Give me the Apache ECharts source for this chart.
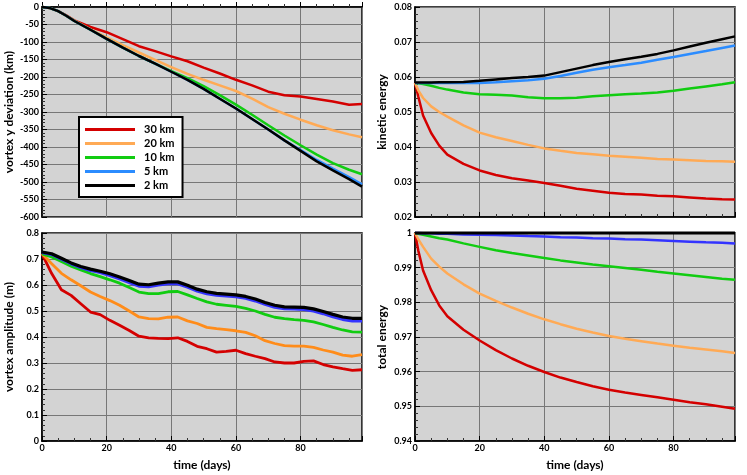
<!DOCTYPE html>
<html><head><meta charset="utf-8">
<script src="https://cdn.jsdelivr.net/npm/echarts@6/dist/echarts.min.js"></script>
<style>html,body{margin:0;padding:0;background:#fff}#c{width:747px;height:475px}</style>
</head><body><div id="c"></div>
<script>
var names = ['30 km','20 km','10 km','5 km','2 km'];

// vortex y deviation (km)
var tDev = [0,2.5,5,7.5,10,15,20,25,30,35,40,45,50,55,60,65,70,75,80,85,90,95,99];
var dev30 = [0,-3,-12,-24,-38,-57,-72,-92,-112,-126,-141,-155,-173,-190,-208,-224,-242,-252,-256,-263,-270,-279,-277];
var dev20 = [0,-3,-12,-25,-39,-64,-87,-109,-130,-151,-172,-191,-208,-224,-240,-262,-286,-305,-322,-338,-352,-364,-372];
var dev10 = [0,-3,-12,-25,-40,-65,-91,-116,-140,-162,-183,-203,-226,-252,-279,-308,-338,-367,-395,-422,-446,-465,-478];
var dev5  = [0,-3,-12,-25,-40,-65,-91,-116,-140,-162,-185,-208,-234,-262,-290,-320,-350,-381,-409,-437,-462,-486,-507];
var dev2  = [0,-3,-12,-25,-40,-65,-91,-116,-140,-162,-185,-208,-234,-262,-290,-320,-350,-381,-411,-441,-467,-492,-513];

// vortex amplitude (m)
var tAmp = [0,3,6,9,12,15,18,21,24,27,30,33,36,39,42,45,48,51,54,57,60,63,66,69,72,75,78,81,84,87,90,93,96,99];
var amp30 = [0.72,0.644,0.582,0.56,0.528,0.496,0.486,0.464,0.445,0.425,0.403,0.397,0.395,0.394,0.397,0.383,0.364,0.355,0.342,0.345,0.349,0.336,0.326,0.317,0.304,0.300,0.300,0.306,0.308,0.294,0.285,0.278,0.272,0.274];
var amp20 = [0.72,0.682,0.645,0.62,0.597,0.573,0.556,0.54,0.522,0.5,0.477,0.471,0.470,0.476,0.477,0.462,0.452,0.437,0.432,0.428,0.424,0.418,0.405,0.386,0.375,0.367,0.365,0.365,0.36,0.35,0.342,0.33,0.326,0.332];
var amp10 = [0.72,0.708,0.69,0.672,0.658,0.644,0.632,0.62,0.607,0.59,0.573,0.567,0.567,0.574,0.575,0.562,0.548,0.535,0.526,0.522,0.518,0.51,0.5,0.487,0.476,0.471,0.467,0.464,0.458,0.448,0.437,0.427,0.42,0.419];
var amp5  = [0.725,0.718,0.7,0.682,0.667,0.656,0.648,0.637,0.624,0.61,0.596,0.594,0.6,0.605,0.605,0.592,0.577,0.567,0.561,0.558,0.555,0.549,0.539,0.526,0.515,0.509,0.508,0.506,0.5,0.49,0.478,0.468,0.462,0.462];
var amp2  = [0.727,0.72,0.703,0.685,0.671,0.661,0.653,0.643,0.631,0.617,0.603,0.601,0.607,0.612,0.612,0.599,0.584,0.574,0.568,0.565,0.562,0.556,0.546,0.533,0.522,0.516,0.515,0.514,0.508,0.498,0.487,0.477,0.472,0.472];

// kinetic energy & total energy
var tEn = [0,1,2.5,5,7.5,10,15,20,25,30,35,40,45,50,55,60,65,70,75,80,85,90,95,99];
var ke30 = [0.0583,0.0545,0.0490,0.0440,0.0404,0.0378,0.0352,0.0333,0.0320,0.0311,0.0304,0.0297,0.0289,0.0281,0.0275,0.0269,0.0266,0.0264,0.0261,0.0259,0.0256,0.0253,0.0251,0.0250];
var ke20 = [0.0583,0.0562,0.0540,0.0516,0.0500,0.0487,0.0462,0.0441,0.0428,0.0417,0.0406,0.0396,0.0389,0.0383,0.0379,0.0375,0.0372,0.0369,0.0366,0.0364,0.0362,0.0360,0.0359,0.0358];
var ke10 = [0.0583,0.0582,0.0580,0.0575,0.0569,0.0564,0.0556,0.0551,0.0549,0.0547,0.0542,0.0539,0.0539,0.0541,0.0545,0.0548,0.0551,0.0553,0.0556,0.0561,0.0567,0.0573,0.0579,0.0585];
var ke5  = [0.0583,0.0583,0.0583,0.0583,0.0583,0.0583,0.0583,0.0583,0.0585,0.0588,0.0591,0.0595,0.0603,0.0612,0.0621,0.0628,0.0634,0.0641,0.0649,0.0657,0.0666,0.0674,0.0683,0.0690];
var ke2  = [0.0584,0.0584,0.0584,0.0584,0.0585,0.0585,0.0586,0.0589,0.0593,0.0597,0.0600,0.0604,0.0614,0.0624,0.0634,0.0643,0.0651,0.0658,0.0666,0.0676,0.0687,0.0698,0.0708,0.0716];
var te30 = [1,0.9950,0.9892,0.9835,0.9791,0.9760,0.9721,0.9690,0.9662,0.9638,0.9617,0.9599,0.9583,0.9570,0.9558,0.9548,0.9540,0.9533,0.9526,0.9519,0.9512,0.9506,0.9499,0.9493];
var te20 = [1,0.9982,0.9960,0.9926,0.9903,0.9883,0.9852,0.9825,0.9804,0.9785,0.9767,0.9751,0.9737,0.9724,0.9713,0.9703,0.9695,0.9688,0.9681,0.9675,0.9669,0.9664,0.9659,0.9654];
var te10 = [1,0.9998,0.9995,0.9990,0.9985,0.9981,0.9970,0.9960,0.9950,0.9942,0.9935,0.9928,0.9921,0.9915,0.9909,0.9904,0.9899,0.9894,0.9888,0.9883,0.9878,0.9873,0.9868,0.9865];
var te5  = [1,1,0.9999,0.9999,0.9998,0.9998,0.9996,0.9995,0.9994,0.9993,0.9991,0.9990,0.9988,0.9987,0.9985,0.9984,0.9982,0.9981,0.9979,0.9977,0.9975,0.9973,0.9972,0.9970];
var te2  = [1,1,1,1,1,1,1,1,1,1,1,1,1,1,1,1,1,1,1,1,1,1,1,1];

var FONT = 'Lato';
function zip(t, v){ return t.map(function(x,i){ return [x, v[i]]; }); }

var grids = [
  {left:42, top:7, width:320, height:210},
  {left:415, top:7, width:320, height:210},
  {left:42, top:233, width:320, height:208},
  {left:415, top:233, width:320, height:208}
];
grids.forEach(function(g){ g.show = true; g.backgroundColor = '#d3d3d3'; g.borderColor = '#000'; g.borderWidth = 1.5; g.containLabel = false; });

function xAxis(i, labels){
  return {
    type:'value', gridIndex:i, min:0, max:99, interval:20,
    name: labels ? 'time (days)' : '', nameLocation:'middle', nameGap:18,
    nameTextStyle:{fontFamily:FONT, fontWeight:'bold', fontSize:12, color:'#000'},
    axisLine:{show:true, lineStyle:{color:'#000', width:1.5}},
    axisTick:{show:true, inside:true, length:5, lineStyle:{color:'#000'}},
    minorTick:{show:true, splitNumber:4, length:3, lineStyle:{color:'#333'}},
    axisLabel:{show:labels, showMaxLabel:false, margin:3, fontFamily:FONT, fontWeight:'bold', fontSize:9, color:'#000'},
    splitLine:{show:true, lineStyle:{color:'#777', width:1}}
  };
}
function yAxis(i, name, min, max, interval, minorSplit){
  return {
    type:'value', gridIndex:i, min:min, max:max, interval:interval,
    name:name, nameLocation:'middle', nameGap:27,
    nameTextStyle:{fontFamily:FONT, fontWeight:'bold', fontSize:12, color:'#000'},
    axisLine:{show:true, lineStyle:{color:'#000', width:1.5}},
    axisTick:{show:true, inside:true, length:5, lineStyle:{color:'#000'}},
    minorTick:{show:true, splitNumber:minorSplit, length:3, lineStyle:{color:'#333'}},
    axisLabel:{margin:3, fontFamily:FONT, fontWeight:'bold', fontSize:9, color:'#000'},
    splitLine:{show:true, lineStyle:{color:'#777', width:1}}
  };
}

var RED='#d40000', ORL='#ffaa55', ORD='#ff8c1a', GRN='#11cc11', BLL='#2b8cff', BLD='#3333ff', BLK='#000000';

function line(name, gi, t, v, color, w){
  return {type:'line', name:name, xAxisIndex:gi, yAxisIndex:gi, data:zip(t,v), symbol:'none', smooth:false, clip:false,
          lineStyle:{color:color, width:w}, itemStyle:{color:color}, emphasis:{disabled:true}};
}

var series = [
  line(names[0],0,tDev,dev30,RED,2.5), line(names[1],0,tDev,dev20,ORL,2.5), line(names[2],0,tDev,dev10,GRN,2.5), line(names[3],0,tDev,dev5,BLL,2.5), line(names[4],0,tDev,dev2,BLK,2.5),
  line(names[0],1,tEn,ke30,RED,2.5), line(names[1],1,tEn,ke20,ORL,2.5), line(names[2],1,tEn,ke10,GRN,2.5), line(names[3],1,tEn,ke5,BLL,2.5), line(names[4],1,tEn,ke2,BLK,2.5),
  line(names[0],2,tAmp,amp30,RED,2.8), line(names[1],2,tAmp,amp20,ORD,2.8), line(names[2],2,tAmp,amp10,GRN,2.8), line(names[3],2,tAmp,amp5,BLD,3.2), line(names[4],2,tAmp,amp2,BLK,3.2),
  line(names[0],3,tEn,te30,RED,2.5), line(names[1],3,tEn,te20,ORL,2.5), line(names[2],3,tEn,te10,GRN,2.5), line(names[3],3,tEn,te5,BLD,2.5), line(names[4],3,tEn,te2,BLK,3)
];

var chart = echarts.init(document.getElementById('c'), null, {renderer:'canvas'});
chart.setOption({
  animation:false,
  backgroundColor:'#fff',
  grid: grids,
  xAxis: [xAxis(0,false), xAxis(1,false), xAxis(2,true), xAxis(3,true)],
  yAxis: [
    yAxis(0,'vortex y deviation (km)',-600,0,50,5),
    yAxis(1,'kinetic energy',0.02,0.08,0.01,5),
    yAxis(2,'vortex amplitude (m)',0,0.8,0.1,5),
    yAxis(3,'total energy',0.94,1,0.01,5)
  ],
  legend:{
    show:true, orient:'vertical', left:79, top:117, width:104,
    data:names.map(function(n){ return {name:n, icon:'rect'}; }), selectedMode:false,
    backgroundColor:'#fff', borderColor:'#000', borderWidth:2, borderRadius:0,
    padding:[7,8,6,6], itemGap:3, itemWidth:50, itemHeight:3,
    textStyle:{fontFamily:FONT, fontWeight:'bold', fontSize:11, color:'#000', padding:[0,0,0,4]}
  },
  series: series
});
</script></body></html>
